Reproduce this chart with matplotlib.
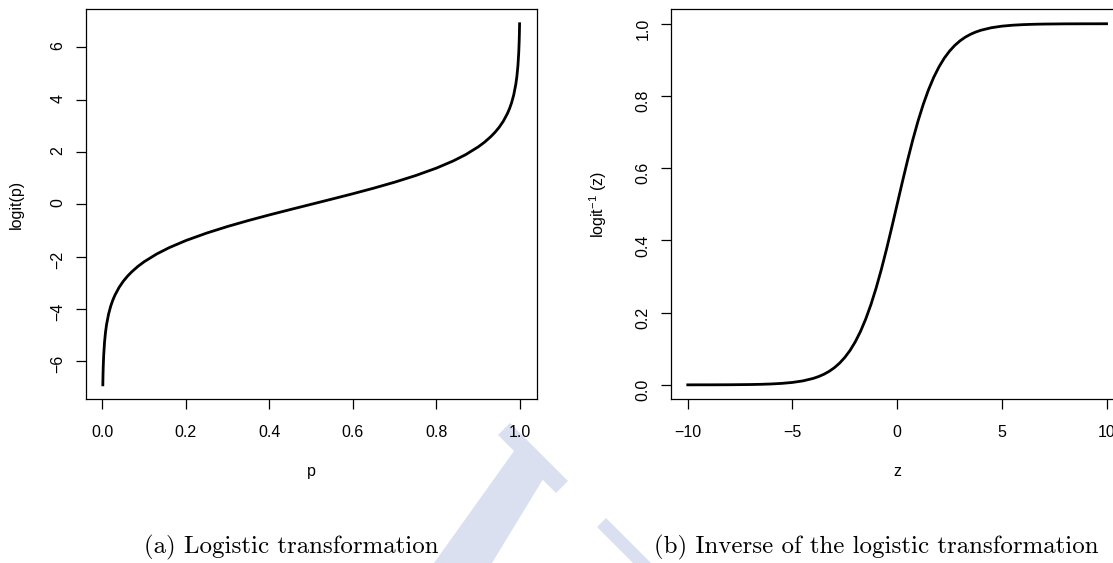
import matplotlib
matplotlib.use('Agg')
import matplotlib.pyplot as plt
from matplotlib.patches import Polygon

# values
p_vals = [0.001, 0.0015, 0.002, 0.003, 0.005, 0.0075, 0.01, 0.015, 0.02, 0.025,
          0.03, 0.04, 0.05, 0.06, 0.07, 0.085, 0.1, 0.13, 0.16, 0.2, 0.25, 0.3,
          0.35, 0.4, 0.45, 0.5,
          0.55, 0.6, 0.65, 0.7, 0.75, 0.8, 0.84, 0.87, 0.9, 0.915, 0.93, 0.94,
          0.95, 0.96, 0.97, 0.975, 0.98, 0.985, 0.99, 0.9925, 0.995, 0.997,
          0.998, 0.9985, 0.999]
logit_vals = [-6.907, -6.501, -6.213, -5.806, -5.293, -4.885, -4.595, -4.185, -3.892, -3.664,
              -3.476, -3.178, -2.944, -2.752, -2.587, -2.376, -2.197, -1.901, -1.658, -1.386,
              -1.099, -0.847, -0.619, -0.405, -0.201, 0.0,
              0.201, 0.405, 0.619, 0.847, 1.099, 1.386, 1.658, 1.901, 2.197, 2.376, 2.587,
              2.752, 2.944, 3.178, 3.476, 3.664, 3.892, 4.185, 4.595, 4.885, 5.293, 5.806,
              6.213, 6.501, 6.907]

z_vals = [-10, -9.5, -9, -8.5, -8, -7.5, -7, -6.5, -6, -5.5, -5, -4.5, -4, -3.75, -3.5,
          -3.25, -3, -2.75, -2.5, -2.25, -2, -1.75, -1.5, -1.25, -1, -0.75, -0.5, -0.25, 0,
          0.25, 0.5, 0.75, 1, 1.25, 1.5, 1.75, 2, 2.25, 2.5, 2.75, 3, 3.25, 3.5, 3.75, 4,
          4.5, 5, 5.5, 6, 6.5, 7, 7.5, 8, 8.5, 9, 9.5, 10]
inv_vals = [0.0000, 0.0001, 0.0001, 0.0002, 0.0003, 0.0006, 0.0009, 0.0015, 0.0025, 0.0041,
            0.0067, 0.0110, 0.0180, 0.0230, 0.0293, 0.0373, 0.0474, 0.0601, 0.0759, 0.0953,
            0.1192, 0.1480, 0.1824, 0.2227, 0.2689, 0.3208, 0.3775, 0.4378, 0.5,
            0.5622, 0.6225, 0.6792, 0.7311, 0.7773, 0.8176, 0.8520, 0.8808, 0.9047, 0.9241,
            0.9399, 0.9526, 0.9627, 0.9707, 0.9770, 0.9820, 0.9890, 0.9933, 0.9959, 0.9975,
            0.9985, 0.9991, 0.9994, 0.9997, 0.9998, 0.9999, 0.9999, 1.0000]

p_ticks = [0.0, 0.2, 0.4, 0.6, 0.8, 1.0]
logit_ticks = [-6, -4, -2, 0, 2, 4, 6]
z_ticks = [-10, -5, 0, 5, 10]
inv_ticks = [0.0, 0.2, 0.4, 0.6, 0.8, 1.0]

captions = ['(a) Logistic transformation', '(b) Inverse of the logistic transformation']

plt.rcParams['font.family'] = ['Liberation Sans', 'DejaVu Sans']
plt.rcParams['mathtext.fontset'] = 'custom'
plt.rcParams['mathtext.rm'] = 'Liberation Sans'
plt.rcParams['mathtext.it'] = 'Liberation Sans:italic'

W, H = 1113, 563
fig = plt.figure(figsize=(W / 100, H / 100), dpi=100)


def px_axes(left, top, right, bottom):
    return fig.add_axes([left / W, 1 - bottom / H, (right - left) / W, (bottom - top) / H])


# faint logo in the background
logo_col = '#dbe0f0'
logo_a = [(498, 435), (510, 423), (568, 481), (556, 493), (542.7, 479.7),
          (492, 563), (434, 563), (514, 451)]
logo_b = [(597, 527), (606, 518), (651, 563), (633, 563)]
for pts in (logo_a, logo_b):
    fig.patches.append(Polygon([(x / W, 1 - y / H) for x, y in pts], closed=True,
                               transform=fig.transFigure, facecolor=logo_col,
                               edgecolor='none', zorder=-5))

ax1 = px_axes(85.7, 9.3, 536.7, 399.3)
ax2 = px_axes(671, 9.3, 671 + 452.3, 399.3)
ax1.set_facecolor('none')
ax2.set_facecolor('none')

ax1.plot(p_vals, logit_vals, color='black', lw=2.0)
ax1.set_xlim(-0.04, 1.04)
ax1.set_ylim(-7.46, 7.46)
ax1.set_xticks(p_ticks)
ax1.set_xticklabels([f'{t:.1f}' for t in p_ticks])
ax1.set_yticks(logit_ticks)
ax1.set_yticklabels([str(t).replace('-', '\u2212') for t in logit_ticks])
ax1.set_xlabel('p', fontsize=11.5)
ax1.set_ylabel('logit(p)', fontsize=11.5)

ax2.plot(z_vals, inv_vals, color='black', lw=2.0)
ax2.set_xlim(-10.8, 10.8)
ax2.set_ylim(-0.04, 1.04)
ax2.set_xticks(z_ticks)
ax2.set_xticklabels([str(t).replace('-', '\u2212') for t in z_ticks])
ax2.set_yticks(inv_ticks)
ax2.set_yticklabels([f'{t:.1f}' for t in inv_ticks])
ax2.set_xlabel('z', fontsize=11.5)
ax2.set_ylabel(r'logit$^{\mathrm{-1}}$ (z)', fontsize=11.5)

for ax in (ax1, ax2):
    for s in ax.spines.values():
        s.set_linewidth(0.9)
    ax.tick_params(direction='out', length=7.4, width=0.9, labelsize=11.5, color='black')
    ax.tick_params(axis='x', pad=11)
    ax.tick_params(axis='y', pad=7.4, labelrotation=90)
    ax.xaxis.set_label_coords(0.5, -0.165)
    ax.yaxis.set_label_coords(-0.136, 0.5)

fig.text(291 / W, 1 - 547.6 / H, captions[0], family='cmr10', fontsize=17.9,
         ha='center', va='center')
fig.text(876 / W, 1 - 547.6 / H, captions[1], family='cmr10', fontsize=17.9,
         ha='center', va='center')

fig.savefig('out.png', dpi=100)
